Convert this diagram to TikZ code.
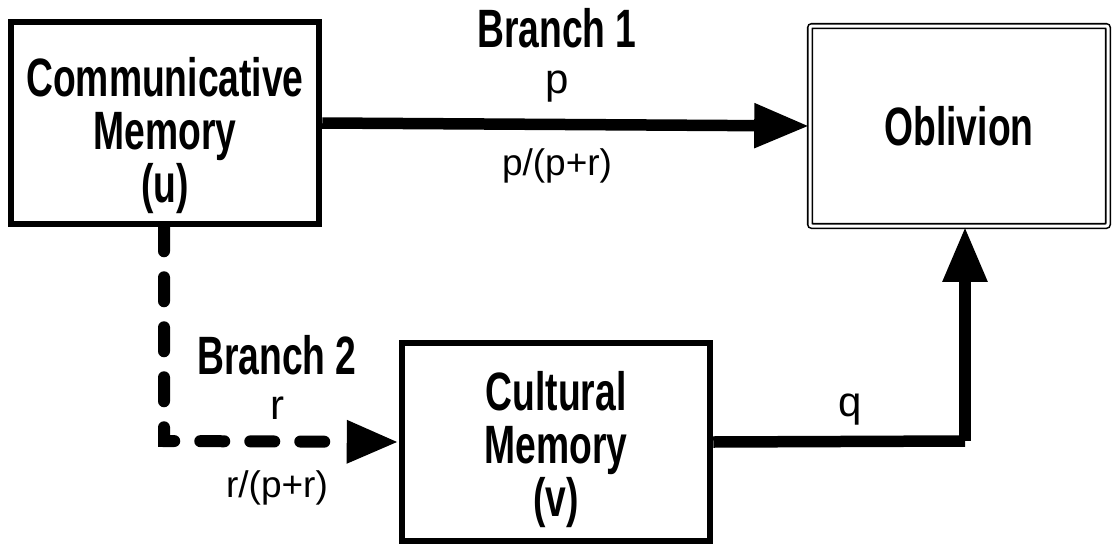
\documentclass[tikz,border=0pt]{standalone}
\usepackage{fontspec}
\setmainfont{Liberation Sans}
\newfontfamily\condbf[FakeStretch=0.69]{Liberation Sans}
\usetikzlibrary{arrows.meta}
\newcommand\boldtext{\condbf\bfseries\fontsize{54}{53}\selectfont}
\newcommand\plaintext{\fontsize{37}{40}\selectfont}
\newcommand\bigplain{\fontsize{42}{44}\selectfont}
\tikzset{
  membox/.style={draw, line width=6.5pt, minimum width=308pt, minimum height=198pt, align=center, font=\boldtext, inner sep=0pt},
  oblbox/.style={draw, line width=1.6pt, double=white, double distance=3pt, rounded corners=2pt, minimum width=298pt, minimum height=200pt, font=\boldtext, inner sep=0pt},
  blabel/.style={font=\boldtext, inner sep=0pt},
  plabel/.style={font=\plaintext, inner sep=0pt},
  letter/.style={font=\bigplain, inner sep=0pt},
  solidarrow/.style={line width=11.5pt, -{Triangle[length=55pt,width=42pt]}},
  dasharrow/.style={line width=12pt, line cap=round, dash pattern=on 24pt off 26pt, -{Triangle[length=52pt,width=40pt]}},
}
\begin{document}
\begin{tikzpicture}[x=1pt,y=-1pt]
\useasboundingbox (0,0) rectangle (1112,544);
\node[membox, minimum height=202pt] (comm) at (165,123) {\rule{0pt}{64pt}Communicative\\Memory\\(u)};
\node[oblbox] (obl) at (959,126) {Oblivion};
\node[membox] (cult) at (556,442) {\rule{0pt}{54pt}Cultural\\Memory\\(v)};
\node[blabel] (b1) at (557,28) {Branch 1};
\node[letter] (p) at (557,87) {p};
\node[plabel] (pf) at (557,166) {p/(p+r)};
\node[blabel] (b2) at (277,355) {Branch 2};
\node[letter] (r) at (277,408) {r};
\node[plabel] (rf) at (277,488) {r/(p+r)};
\node[letter] (q) at (850,410) {q};
\coordinate (corner) at (164,441);
\coordinate (qcorner) at (965,441);
\draw[solidarrow] (comm.east) -- (obl.west);
\draw[dasharrow] (comm.south -| corner) -- (corner) -- (cult.west);
\draw[line width=11.5pt, line join=round] (cult.east) -- (qcorner);
\draw[solidarrow] (qcorner) -- (qcorner |- obl.south);
\end{tikzpicture}
\end{document}
